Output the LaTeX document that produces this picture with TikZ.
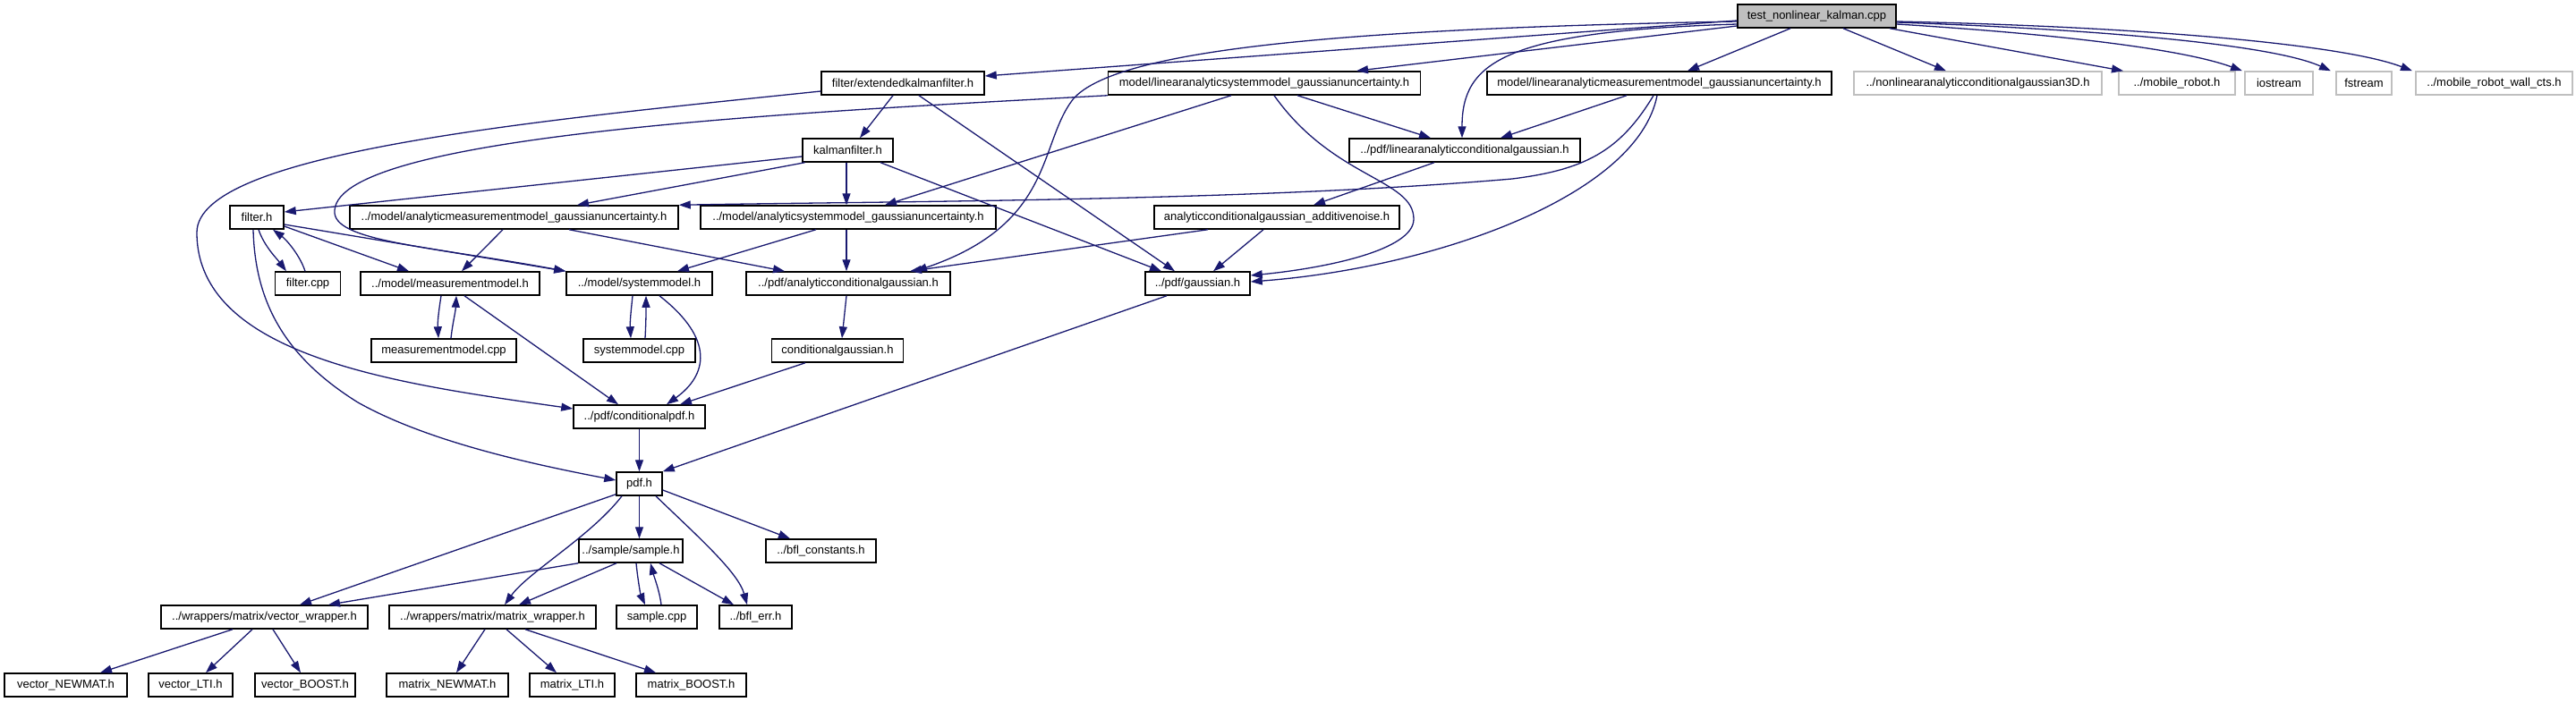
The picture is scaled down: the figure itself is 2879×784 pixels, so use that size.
\documentclass[tikz,border=0pt]{standalone}
\usepackage{fontspec}
\setmainfont{Liberation Sans}
\usetikzlibrary{arrows.meta}
\definecolor{eblue}{RGB}{25,25,112}
\definecolor{tgray}{RGB}{191,191,191}
\definecolor{lgray}{RGB}{191,191,191}
\newcommand\nodefont{\fontsize{13}{15}\selectfont}
\tikzset{
  nd/.style={draw=black, line width=1.5pt, fill=white, minimum height=26pt, inner sep=0pt, font=\nodefont},
  gnd/.style={nd, draw=lgray},
  e/.style={draw=eblue, line width=1.3pt, -{Triangle[length=13pt,width=9pt]}},
}
\begin{document}
\begin{tikzpicture}[x=1pt,y=-1pt]
\useasboundingbox[fill=white] (0,0) rectangle (2879,784);
% row 0
\node[nd, fill=tgray, minimum width=177pt] (T) at (2030.5,18) {test\_nonlinear\_kalman.cpp};
% row 1
\node[nd, minimum width=182pt] (EKF) at (1009,93) {filter/extendedkalmanfilter.h};
\node[nd, minimum width=349pt] (LASM) at (1413,93) {model/linearanalyticsystemmodel\_gaussianuncertainty.h};
\node[nd, minimum width=385pt] (LAMM) at (1854.5,93) {model/linearanalyticmeasurementmodel\_gaussianuncertainty.h};
\node[gnd, minimum width=277pt] (NL3D) at (2210.5,93) {../nonlinearanalyticconditionalgaussian3D.h};
\node[gnd, minimum width=130pt] (MR) at (2433,93) {../mobile\_robot.h};
\node[gnd, minimum width=76pt] (IOS) at (2547,93) {iostream};
\node[gnd, minimum width=62pt] (FST) at (2642,93) {fstream};
\node[gnd, minimum width=175pt] (WALL) at (2787.5,93) {../mobile\_robot\_wall\_cts.h};
% row 2
\node[nd, minimum width=101pt] (KF) at (947.5,168) {kalmanfilter.h};
\node[nd, minimum width=258pt] (LACG) at (1637,168) {../pdf/linearanalyticconditionalgaussian.h};
% row 3
\node[nd, minimum width=60pt] (FH) at (287,243) {filter.h};
\node[nd, minimum width=367pt] (AMM) at (574.5,243) {../model/analyticmeasurementmodel\_gaussianuncertainty.h};
\node[nd, minimum width=330pt] (ASM) at (948,243) {../model/analyticsystemmodel\_gaussianuncertainty.h};
\node[nd, minimum width=274pt] (ACGAN) at (1427,243) {analyticconditionalgaussian\_additivenoise.h};
% row 4
\node[nd, minimum width=73pt] (FCPP) at (344,317) {filter.cpp};
\node[nd, minimum width=200pt] (MMH) at (503,317) {../model/measurementmodel.h};
\node[nd, minimum width=163pt] (SM) at (714.5,317) {../model/systemmodel.h};
\node[nd, minimum width=228pt] (ACG) at (948,317) {../pdf/analyticconditionalgaussian.h};
\node[nd, minimum width=117pt] (GAU) at (1338.5,317) {../pdf/gaussian.h};
% row 5
\node[nd, minimum width=162pt] (MMC) at (496,392) {measurementmodel.cpp};
\node[nd, minimum width=125pt] (SMC) at (714.5,392) {systemmodel.cpp};
\node[nd, minimum width=147pt] (CG) at (936,392) {conditionalgaussian.h};
% row 6
\node[nd, minimum width=147pt] (CPDF) at (714.5,466) {../pdf/conditionalpdf.h};
% row 7
\node[nd, minimum width=51pt] (PDF) at (714.5,541) {pdf.h};
% row 8
\node[nd, minimum width=116pt] (SMP) at (705,616) {../sample/sample.h};
\node[nd, minimum width=123pt] (BCON) at (917.5,616) {../bfl\_constants.h};
% row 9
\node[nd, minimum width=231pt] (VW) at (295.5,690) {../wrappers/matrix/vector\_wrapper.h};
\node[nd, minimum width=231pt] (MW) at (550.5,690) {../wrappers/matrix/matrix\_wrapper.h};
\node[nd, minimum width=90pt] (SCPP) at (734,690) {sample.cpp};
\node[nd, minimum width=81pt] (BERR) at (844.5,690) {../bfl\_err.h};
% row 10
\node[nd, minimum width=137pt] (VN) at (73.5,766) {vector\_NEWMAT.h};
\node[nd, minimum width=94pt] (VL) at (213,766) {vector\_LTI.h};
\node[nd, minimum width=112pt] (VB) at (341,766) {vector\_BOOST.h};
\node[nd, minimum width=136pt] (MN) at (500,766) {matrix\_NEWMAT.h};
\node[nd, minimum width=95pt] (ML) at (639.5,766) {matrix\_LTI.h};
\node[nd, minimum width=123pt] (MB) at (772.5,766) {matrix\_BOOST.h};
% ---- edges from T
\draw[e] ([yshift=-5pt]T.west) -- ([yshift=8pt]EKF.east);
\draw[e] ([yshift=-11pt]T.west) -- ([xshift=103pt]LASM.north);
\draw[e] ([yshift=-6pt]T.west) .. controls (1500,32) and (1250,55) .. (1200,110) .. controls (1160,160) and (1180,250) .. ([xshift=75pt]ACG.north);
\draw[e] ([yshift=-9pt]T.west) .. controls (1680,35) and (1634,70) .. ([xshift=-3pt]LACG.north);
\draw[e] ([xshift=-29.5pt]T.south) -- ([xshift=31.5pt]LAMM.north);
\draw[e] ([xshift=29.5pt]T.south) -- ([xshift=-35.5pt]NL3D.north);
\draw[e] ([xshift=81.5pt]T.south) -- ([xshift=-60pt]MR.north);
\draw[e] ([yshift=-9pt]T.east) .. controls (2300,38) and (2440,55) .. ([xshift=-41pt]IOS.north);
\draw[e] ([yshift=-7pt]T.east) .. controls (2350,33) and (2540,50) .. ([xshift=-37pt]FST.north);
\draw[e] ([yshift=-6pt]T.east) .. controls (2400,30) and (2620,50) .. ([xshift=-91.5pt]WALL.north);
% ---- EKF
\draw[e] ([xshift=-11pt]EKF.south) -- ([xshift=13.5pt]KF.north);
\draw[e] ([xshift=18pt]EKF.south) -- ([xshift=-25.5pt]GAU.north);
\draw[e] ([yshift=-9pt]EKF.west) .. controls (600,135) and (220,170) .. (220,260) .. controls (220,400) and (450,430) .. ([yshift=9pt]CPDF.west);
% ---- LASM
\draw[e] ([xshift=-37pt]LASM.south) -- ([xshift=41pt]ASM.north);
\draw[e] ([xshift=37pt]LASM.south) -- ([xshift=-38pt]LACG.north);
\draw[e] ([xshift=11pt]LASM.south) .. controls (1490,200) and (1580,200) .. (1580,245) .. controls (1580,280) and (1480,300) .. ([yshift=9pt]GAU.east);
\draw[e] (LASM.south west) .. controls (900,125) and (380,150) .. (374,235) .. controls (370,270) and (480,275) .. (SM.north west);
% ---- LAMM
\draw[e] ([xshift=-36.5pt]LAMM.south) -- ([xshift=40pt]LACG.north);
\draw[e] ([xshift=-6.5pt]LAMM.south) .. controls (1810,170) and (1770,190) .. (1690,200) .. controls (1400,225) and (1000,225) .. (AMM.north east);
\draw[e] ([xshift=-2.5pt]LAMM.south) .. controls (1830,220) and (1600,300) .. ([yshift=2pt]GAU.east);
% ---- KF
\draw[e] ([yshift=-7pt]KF.west) -- ([yshift=6pt]FH.east);
\draw[e] ([xshift=-48pt]KF.south) -- ([xshift=70.5pt]AMM.north);
\draw[e] ([xshift=-1.5pt]KF.south) -- ([xshift=-2pt]ASM.north);
\draw[e] ([xshift=36.5pt]KF.south) -- ([xshift=-40.5pt]GAU.north);
% ---- LACG
\draw[e] ([xshift=-34pt]LACG.south) -- ([xshift=41pt]ACGAN.north);
% ---- filter.h
\draw[e] ([xshift=2pt]FH.south) .. controls (295,275) and (310,290) .. ([xshift=-24pt]FCPP.north);
\draw[e] ([xshift=-3pt]FCPP.north) .. controls (335,285) and (320,268) .. ([xshift=18pt]FH.south);
\draw[e] ([yshift=-10pt]FH.east) -- ([xshift=-46pt]MMH.north);
\draw[e] ([yshift=-8pt]FH.east) -- (SM.north west);
\draw[e] ([xshift=-4pt]FH.south) .. controls (285,340) and (320,400) .. (400,450) .. controls (480,495) and (600,520) .. ([yshift=4pt]PDF.west);
% ---- AMM / ASM / ACGAN
\draw[e] ([xshift=-12.5pt]AMM.south) -- ([xshift=13pt]MMH.north);
\draw[e] ([xshift=61.5pt]AMM.south) -- ([xshift=-71pt]ACG.north);
\draw[e] ([xshift=-36pt]ASM.south) -- ([xshift=42.5pt]SM.north);
\draw[e] ([xshift=-2pt]ASM.south) -- ([xshift=-2pt]ACG.north);
\draw[e] ([xshift=-77pt]ACGAN.south) -- ([xshift=69pt]ACG.north);
\draw[e] ([xshift=-15pt]ACGAN.south) -- ([xshift=17.5pt]GAU.north);
% ---- row 4
\draw[e] ([xshift=-10pt]MMH.south) .. controls (490,350) and (489,360) .. ([xshift=-6pt]MMC.north);
\draw[e] ([xshift=8pt]MMC.north) .. controls (506,360) and (509,350) .. ([xshift=7pt]MMH.south);
\draw[e] ([xshift=16pt]MMH.south) -- ([xshift=-23.5pt]CPDF.north);
\draw[e] ([xshift=-7.5pt]SM.south) .. controls (705,350) and (704,360) .. ([xshift=-9.5pt]SMC.north);
\draw[e] ([xshift=6.5pt]SMC.north) .. controls (722,360) and (722,350) .. ([xshift=7.5pt]SM.south);
\draw[e] ([xshift=22.5pt]SM.south) .. controls (800,380) and (790,420) .. ([xshift=30.5pt]CPDF.north);
\draw[e] ([xshift=-2pt]ACG.south) -- ([xshift=5pt]CG.north);
\draw[e] ([xshift=-36pt]CG.south) -- ([xshift=45.5pt]CPDF.north);
\draw[e] ([xshift=-34.5pt]GAU.south) -- (PDF.north east);
\draw[e] (CPDF.south) -- (PDF.north);
% ---- pdf.h
\draw[e] ([yshift=2pt]PDF.south west) -- ([xshift=39.5pt]VW.north);
\draw[e] ([xshift=-19.5pt]PDF.south) .. controls (660,600) and (590,640) .. ([xshift=13.5pt]MW.north);
\draw[e] (PDF.south) -- ([xshift=9.5pt]SMP.north);
\draw[e] ([xshift=18.5pt]PDF.south) .. controls (780,600) and (825,640) .. ([xshift=-9.5pt]BERR.north);
\draw[e] ([yshift=-7pt]PDF.east) -- ([xshift=-34.5pt]BCON.north);
% ---- sample.h
\draw[e] (SMP.south west) -- ([xshift=71.5pt]VW.north);
\draw[e] ([xshift=-16pt]SMP.south) -- ([xshift=29.5pt]MW.north);
\draw[e] ([xshift=6pt]SMP.south) .. controls (713,650) and (716,665) .. ([xshift=-13pt]SCPP.north);
\draw[e] ([xshift=5pt]SCPP.north) .. controls (737,660) and (731,645) .. ([xshift=22pt]SMP.south);
\draw[e] ([xshift=32pt]SMP.south) -- ([xshift=-24.5pt]BERR.north);
% ---- wrappers
\draw[e] ([xshift=-35.5pt]VW.south) -- ([xshift=38.5pt]VN.north);
\draw[e] ([xshift=-13.5pt]VW.south) -- ([xshift=17pt]VL.north);
\draw[e] ([xshift=9.5pt]VW.south) -- ([xshift=-5pt]VB.north);
\draw[e] ([xshift=-8.5pt]MW.south) -- ([xshift=10pt]MN.north);
\draw[e] ([xshift=15.5pt]MW.south) -- ([xshift=-17.5pt]ML.north);
\draw[e] ([xshift=36.5pt]MW.south) -- ([xshift=-39.5pt]MB.north);
\end{tikzpicture}
\end{document}
